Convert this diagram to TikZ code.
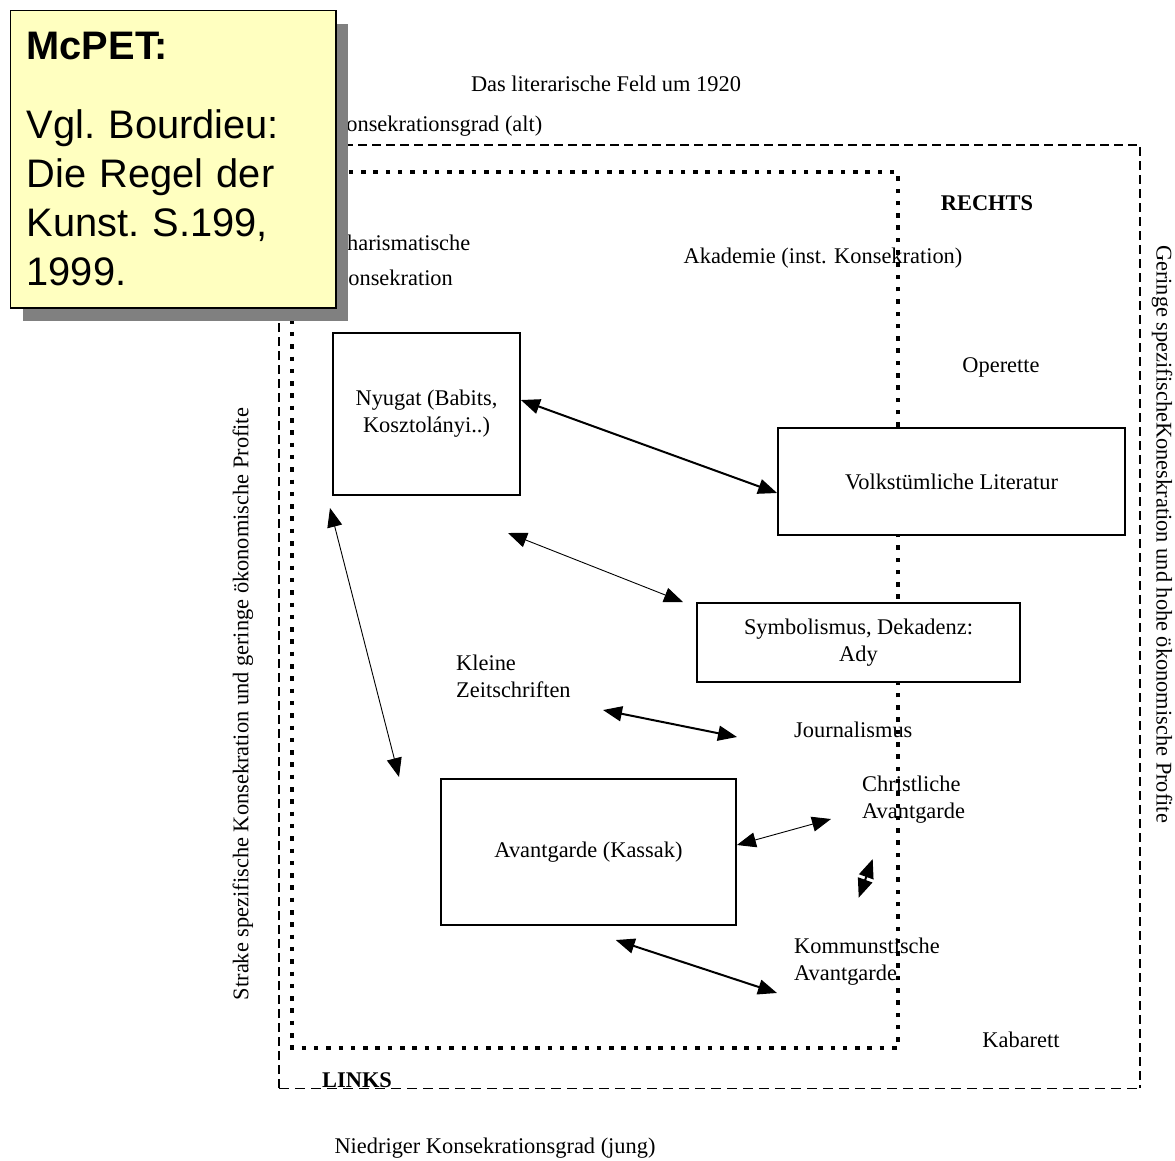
\documentclass[tikz,border=0pt]{standalone}
\usepackage{fontspec}
\setmainfont{Liberation Serif}
\newfontfamily\notefont{Liberation Sans}
\usetikzlibrary{arrows.meta, shadows}

\definecolor{noteyellow}{RGB}{255,255,192}

\tikzset{
    >={Triangle[length=19pt, width=15pt]},
    fieldbox/.style={draw, line width=1.8pt, fill=white, align=center, inner sep=0pt},
    lbl/.style={inner sep=0pt},
    multi/.style={inner sep=0pt, align=left, anchor=north west},
    link/.style={<->, line width=2pt},
    thinlink/.style={<->, line width=0.9pt},
    outerdash/.style={line width=2.6pt, dash pattern=on 9pt off 5pt},
    thindash/.style={line width=1pt, dash pattern=on 10pt off 6pt},
    dotframe/.style={line width=4.5pt, dash pattern=on 4.5pt off 7.8pt},
    notebox/.style={draw, line width=1.5pt, fill=noteyellow, text width=293.3pt, minimum height=297.3pt,
        inner xsep=16pt, inner ysep=0pt, align=left, font=\notefont\fontsize{39.8}{49}\selectfont\frenchspacing,
        drop shadow={shadow xshift=12pt, shadow yshift=-13pt, fill=black!50, opacity=1}}
}

\begin{document}
\begin{tikzpicture}[x=1pt, y=-1pt, font=\fontsize{22.4}{27}\selectfont]
    \useasboundingbox (0,0) rectangle (1175,1160);
    % field frames
    \draw[outerdash] (279,1088) -- (279,145) -- (1140,145) -- (1140,1088);
    \draw[thindash] (279,1088) -- (1140,1088);
    \draw[dotframe] (292,172) rectangle (898,1048);

    % boxes
    \node[fieldbox, minimum width=187pt, minimum height=162pt] (nyugat) at (426.5,414) {Nyugat (Babits,\\ Kosztolányi..)};
    \node[fieldbox, minimum width=347pt, minimum height=107pt] (volks) at (951.5,481.5) {Volkstümliche Literatur};
    \node[fieldbox, minimum width=323pt, minimum height=79pt] (symbol) at (858.5,642.5) {Symbolismus, Dekadenz:\\ Ady};
    \node[fieldbox, minimum width=295pt, minimum height=146pt] (avant) at (588.5,852) {Avantgarde (Kassak)};

    % labels
    \node[lbl, anchor=base] (title) at (606,91) {Das literarische Feld um 1920};
    \node[lbl, anchor=base west] (alt) at (330,131) {Konsekrationsgrad (alt)};
    \node[multi] (charis) at (332,234.7) {Charismatische\\[8pt] Konsekration};
    \node[lbl, anchor=base] (rechts) at (987,210) {\textbf{RECHTS}};
    \node[lbl, anchor=base] (akademie) at (823,263) {Akademie (inst. Konsekration)};
    \node[lbl, anchor=base] (operette) at (1001,372) {Operette};
    \node[multi] (kleine) at (456,654.7) {Kleine\\ Zeitschriften};
    \node[lbl, anchor=base west] (journ) at (794,737) {Journalismus};
    \node[multi] (christ) at (862,775.7) {Christliche\\ Avantgarde};
    \node[multi] (kommun) at (794,937.7) {Kommunstische\\ Avantgarde};
    \node[lbl, anchor=base] (kabarett) at (1021,1047) {Kabarett};
    \node[lbl, anchor=base west] (links) at (322,1087) {\textbf{LINKS}};
    \node[lbl, anchor=base] (jung) at (495,1153) {Niedriger Konsekrationsgrad (jung)};
    \node[lbl, rotate=90] (leftaxis) at (243,704) {Strake spezifische Konsekration und geringe ökonomische Profite};
    \node[lbl, rotate=-90] (rightaxis) at (1162,534) {Geringe spezifischeKoneskration und hohe ökonomische Profite};

    % arrows
    \coordinate (a2s) at (508,533);
    \coordinate (a2e) at (683,602);
    \coordinate (a3s) at (330,508);
    \coordinate (a3e) at (399,777);
    \coordinate (a4s) at (603,710);
    \coordinate (a4e) at (737,737);
    \coordinate (a5e) at (831,819);
    \coordinate (a6s) at (872.7,859);
    \coordinate (a6e) at (858.7,897.7);
    \coordinate (a7s) at (615.7,940);
    \coordinate (a7e) at (777,993);
    \draw[link] ([yshift=14pt]nyugat.east) -- ([yshift=-11.5pt]volks.west);
    \draw[thinlink] (a2s) -- (a2e);
    \draw[thinlink] (a3s) -- (a3e);
    \draw[link] (a4s) -- (a4e);
    \draw[thinlink] ([yshift=7pt]avant.east) -- (a5e);
    \draw[link] (a6s) -- (a6e);
    \draw[link] (a7s) -- (a7e);

    % note
    \node[notebox] (note) at (173.3,159.3) {\textbf{McPET:}\\[30pt] Vgl. Bourdieu:\\ Die Regel der\\ Kunst. S.199,\\ 1999.};
\end{tikzpicture}
\end{document}
